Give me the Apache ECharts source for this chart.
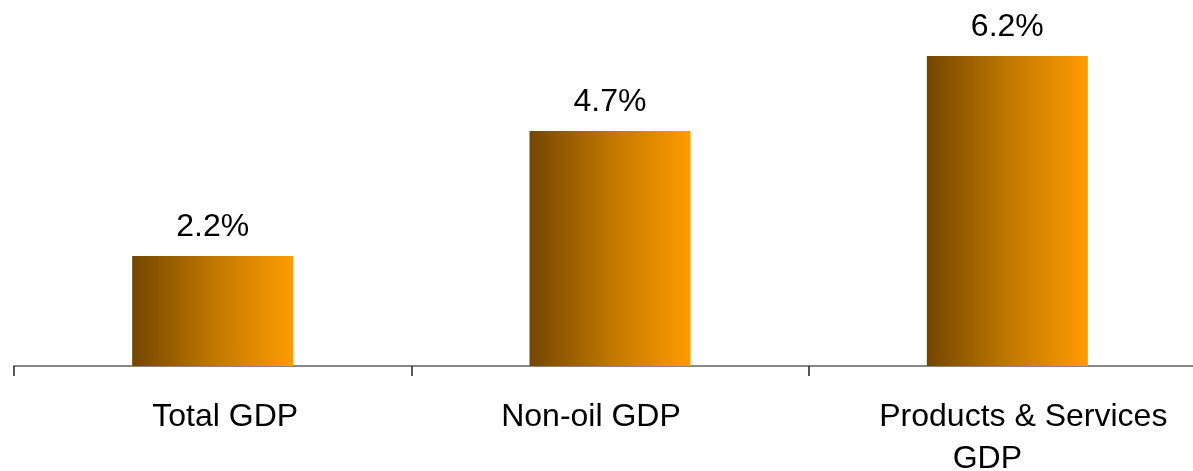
<!DOCTYPE html>
<html>
<head>
<meta charset="utf-8">
<script src="https://cdn.jsdelivr.net/npm/echarts@6/dist/echarts.min.js"></script>
<style>
html,body{margin:0;padding:0;background:#fff;}
#chart{width:1193px;height:471px;}
</style>
</head>
<body>
<div id="chart"></div>
<script>
const categories = ['Total GDP', 'Non-oil GDP', 'Products & Services\nGDP'];
const growthValues = [2.2, 4.7, 6.2];

const chart = echarts.init(document.getElementById('chart'), null, {renderer: 'canvas'});
const font = '"Liberation Sans", Arial, sans-serif';

function rs(pad) {
  return {fontFamily: font, fontSize: 32, color: '#000', lineHeight: 42, padding: pad};
}

chart.setOption({
  animation: false,
  backgroundColor: '#ffffff',
  grid: {left: 14, right: -13, top: 16, bottom: 105, containLabel: false, outerBoundsMode: 'none'},
  xAxis: {
    type: 'category',
    data: categories,
    axisLine: {show: true, lineStyle: {color: '#888888', width: 2}},
    axisTick: {show: true, length: 10, lineStyle: {color: '#222222', width: 1.5}},
    axisLabel: {
      interval: 0,
      hideOverlap: false,
      margin: 30,
      color: '#000',
      fontFamily: font,
      fontSize: 32,
      lineHeight: 42,
      formatter: function (v, i) {
        const lines = v.split('\n');
        return lines.map(function (l, j) { return '{s' + i + '_' + j + '|' + l + '}'; }).join('\n');
      },
      rich: {
        s0_0: rs([0, 0, 0, 25]),
        s1_0: rs([0, 38, 0, 0]),
        s2_0: rs([0, 0, 0, 32]),
        s2_1: rs([0, 40, 0, 0])
      }
    }
  },
  yAxis: {
    type: 'value',
    min: 0,
    max: 7,
    show: false,
    splitLine: {show: false}
  },
  series: [{
    type: 'bar',
    data: growthValues,
    barWidth: 161,
    itemStyle: {
      color: new echarts.graphic.LinearGradient(0, 0, 1, 0, [
        {offset: 0, color: '#744600'},
        {offset: 0.5, color: '#c07600'},
        {offset: 1, color: '#ff9c00'}
      ])
    },
    label: {
      show: true,
      position: 'top',
      distance: 13,
      color: '#000',
      fontFamily: font,
      fontSize: 32,
      formatter: function (p) { return p.value.toFixed(1) + '%'; }
    }
  }]
});
</script>
</body>
</html>
